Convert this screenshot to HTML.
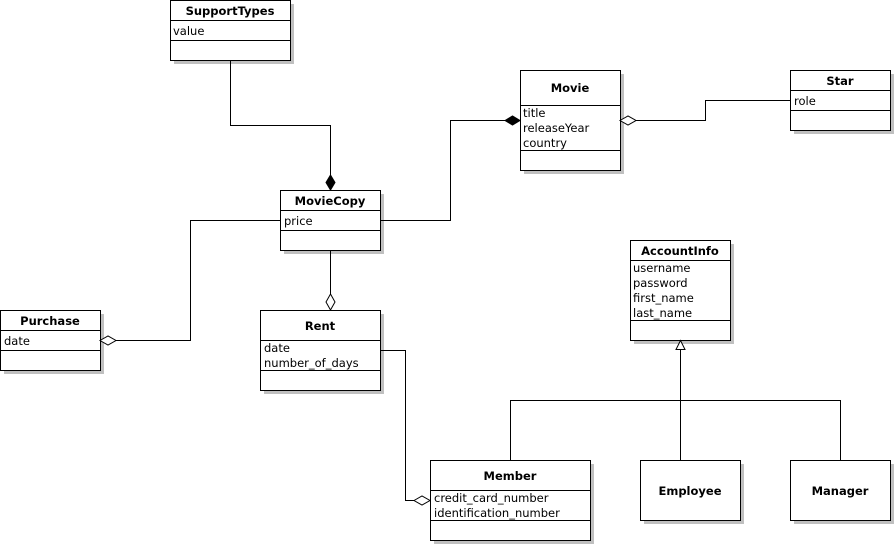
<!DOCTYPE html>
<html><head><meta charset="utf-8"><style>body{margin:0;background:#fff}svg{display:block}
text{font-family:"DejaVu Sans","Liberation Sans",sans-serif;font-size:11.5px;fill:#000}
.b{font-weight:bold;text-anchor:middle}</style></head><body>
<svg width="895" height="545" viewBox="0 0 895 545">
<g fill="#c0c0c0">
<rect x="174" y="4" width="120" height="60"/><rect x="284" y="194" width="100" height="60"/>
<rect x="524" y="74" width="100" height="100"/><rect x="794" y="74" width="100" height="60"/>
<rect x="634" y="244" width="100" height="100"/><rect x="4" y="314" width="100" height="60"/>
<rect x="264" y="314" width="120" height="80"/><rect x="434" y="464" width="160" height="80"/>
<rect x="644" y="464" width="100" height="60"/><rect x="794" y="464" width="100" height="60"/>
</g>
<g fill="#fff" stroke="#000" stroke-width="1">
<rect x="170.5" y="0.5" width="120" height="60"/><line x1="170" y1="20.5" x2="290" y2="20.5"/><line x1="170" y1="40.5" x2="290" y2="40.5"/>
<rect x="280.5" y="190.5" width="100" height="60"/><line x1="280" y1="210.5" x2="380" y2="210.5"/><line x1="280" y1="230.5" x2="380" y2="230.5"/>
<rect x="520.5" y="70.5" width="100" height="100"/><line x1="520" y1="105.5" x2="620" y2="105.5"/><line x1="520" y1="150.5" x2="620" y2="150.5"/>
<rect x="790.5" y="70.5" width="100" height="60"/><line x1="790" y1="90.5" x2="890" y2="90.5"/><line x1="790" y1="110.5" x2="890" y2="110.5"/>
<rect x="630.5" y="240.5" width="100" height="100"/><line x1="630" y1="260.5" x2="730" y2="260.5"/><line x1="630" y1="320.5" x2="730" y2="320.5"/>
<rect x="0.5" y="310.5" width="100" height="60"/><line x1="0" y1="330.5" x2="100" y2="330.5"/><line x1="0" y1="350.5" x2="100" y2="350.5"/>
<rect x="260.5" y="310.5" width="120" height="80"/><line x1="260" y1="340.5" x2="380" y2="340.5"/><line x1="260" y1="370.5" x2="380" y2="370.5"/>
<rect x="430.5" y="460.5" width="160" height="80"/><line x1="430" y1="490.5" x2="590" y2="490.5"/><line x1="430" y1="520.5" x2="590" y2="520.5"/>
<rect x="640.5" y="460.5" width="100" height="60"/><rect x="790.5" y="460.5" width="100" height="60"/>
</g>
<g fill="none" stroke="#000" stroke-width="1">
<polyline points="230.5,60 230.5,125.5 330.5,125.5 330.5,176"/>
<polyline points="380,220.5 450.5,220.5 450.5,120.5 506,120.5"/>
<polyline points="790,100.5 705.5,100.5 705.5,120.5 636,120.5"/>
<polyline points="280,220.5 190.5,220.5 190.5,340.5 116,340.5"/>
<polyline points="330.5,250 330.5,294"/>
<polyline points="380,350.5 405.5,350.5 405.5,500.5 414,500.5"/>
<polyline points="680.5,350 680.5,460"/>
<polyline points="510.5,460 510.5,400.5 840.5,400.5 840.5,460"/>
</g>
<g stroke="#000" stroke-width="1">
<polygon points="330.5,175 335,182.5 330.5,190 326,182.5" fill="#000"/>
<polygon points="505,120.5 512.5,116 520,120.5 512.5,125" fill="#000"/>
<polygon points="620,120.5 628,116 636,120.5 628,125" fill="#fff"/>
<polygon points="100,340.5 108,336 116,340.5 108,345" fill="#fff"/>
<polygon points="330.5,294 335,302 330.5,310 326,302" fill="#fff"/>
<polygon points="414,500.5 422,496 430,500.5 422,505" fill="#fff"/>
<polygon points="680.5,340.5 685,349.5 676,349.5" fill="#fff"/>
</g>
<text class="b" x="230" y="15">SupportTypes</text><text x="173" y="35">value</text>
<text class="b" x="330" y="205">MovieCopy</text><text x="284" y="225">price</text>
<text class="b" x="570" y="92">Movie</text><text x="523" y="117">title</text><text x="523" y="132">releaseYear</text><text x="523" y="147">country</text>
<text class="b" x="840" y="85">Star</text><text x="794" y="105">role</text>
<text class="b" x="680" y="255">AccountInfo</text><text x="633" y="272">username</text><text x="633" y="287">password</text><text x="633" y="302">first_name</text><text x="633" y="317">last_name</text>
<text class="b" x="50" y="325">Purchase</text><text x="4" y="345">date</text>
<text class="b" x="320" y="330">Rent</text><text x="264" y="352">date</text><text x="264" y="367">number_of_days</text>
<text class="b" x="510" y="480">Member</text><text x="434" y="502">credit_card_number</text><text x="434" y="517">identification_number</text>
<text class="b" x="690" y="495">Employee</text><text class="b" x="840" y="495">Manager</text>
</svg></body></html>
